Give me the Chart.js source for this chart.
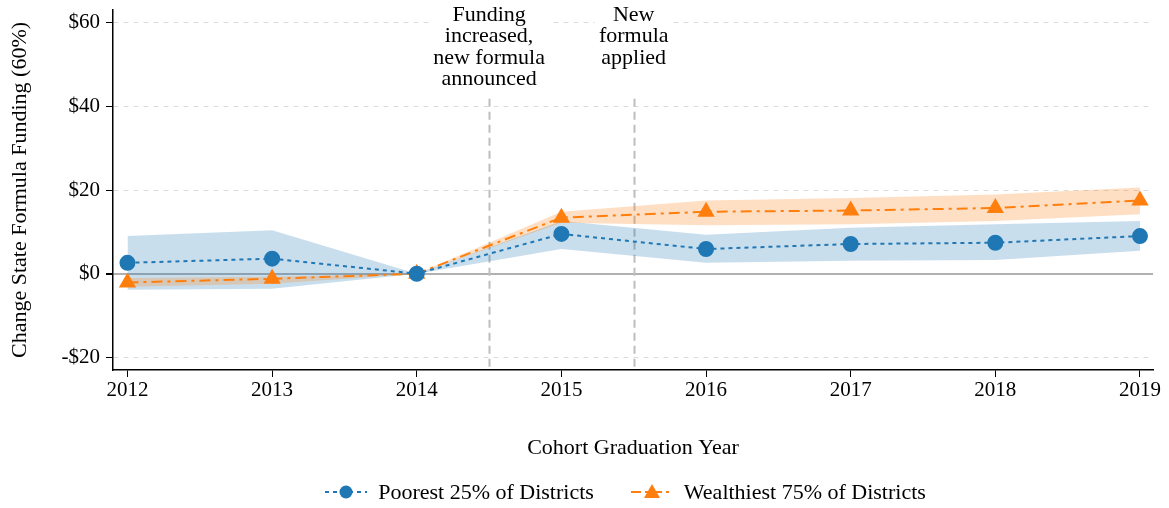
<!DOCTYPE html>
<html>
<head>
<meta charset="utf-8">
<script src="https://cdn.jsdelivr.net/npm/chart.js@4.4.0/dist/chart.umd.min.js"></script>
<style>
  body { margin: 0; background: #fff; }
  #wrap { position: relative; width: 1169px; height: 508px; }
  #legend { position: absolute; left: 0; top: 479px; width: 1250px; display: flex; justify-content: center;
            font-family: "Liberation Serif", serif; font-size: 22px; color: #000; }
  .item { display: flex; align-items: center; margin: 0 18px; }
  .item svg { margin-right: 10px; }
</style>
</head>
<body>
<div id="wrap">
  <canvas id="myChart" width="1169" height="508"></canvas>
  <div id="legend">
    <div class="item">
      <svg width="44" height="20"><line x1="1" y1="10" x2="43" y2="10" stroke="#1f77b4" stroke-width="2" stroke-dasharray="4,4"/><circle cx="22" cy="10" r="6.5" fill="#1f77b4"/></svg>
      <span>Poorest 25% of Districts</span>
    </div>
    <div class="item">
      <svg width="44" height="20"><line x1="1" y1="10" x2="43" y2="10" stroke="#ff7f0e" stroke-width="2" stroke-dasharray="10,4,3,4"/><polygon points="22,2 30,16 14,16" fill="#ff7f0e"/></svg>
      <span>Wealthiest 75% of Districts</span>
    </div>
  </div>
</div>
<script>
// chart data
var years = [2012, 2013, 2014, 2015, 2016, 2017, 2018, 2019];
var poorest = [2.6, 3.6, 0, 9.5, 5.9, 7.1, 7.4, 9.0];
var poorestHi = [9.0, 10.4, 0, 12.6, 9.3, 11.0, 11.8, 12.6];
var poorestLo = [-3.8, -3.6, 0, 5.9, 2.6, 3.1, 3.3, 5.5];
var wealthiest = [-2.1, -1.2, 0, 13.4, 14.8, 15.1, 15.7, 17.5];
var wealthiestHi = [-1.0, -0.7, 0, 14.8, 17.5, 18.1, 18.9, 20.6];
var wealthiestLo = [-3.1, -2.4, 0, 12.2, 11.6, 11.8, 12.6, 14.2];
var yTicks = [-20, 0, 20, 40, 60];
var events = [
    { x: 2014.5, text: ['Funding', 'increased,', 'new formula', 'announced'] },
    { x: 2015.5, text: ['New', 'formula', 'applied'] }
];

var blue = '#1f77b4';
var orange = '#ff7f0e';
var FONT = '"Liberation Serif", serif';

function pts(arr) {
    return years.map(function (y, i) { return { x: y, y: arr[i] }; });
}

// vertical event lines + labels
var eventPlugin = {
    id: 'events',
    beforeDatasetsDraw: function (chart) {
        var c = chart.ctx, xs = chart.scales.x, ys = chart.scales.y;
        c.save();
        c.strokeStyle = '#bdbdbd';
        c.lineWidth = 2;
        c.setLineDash([8, 5]);
        events.forEach(function (ev) {
            var px = Math.round(xs.getPixelForValue(ev.x)) + 0.5;
            c.beginPath();
            c.moveTo(px, ys.getPixelForValue(41.8));
            c.lineTo(px, chart.chartArea.bottom);
            c.stroke();
        });
        c.restore();
    },
    afterDraw: function (chart) {
        var c = chart.ctx, xs = chart.scales.x;
        c.save();
        c.font = '22px ' + FONT;
        c.textAlign = 'center';
        c.textBaseline = 'middle';
        events.forEach(function (ev) {
            var px = xs.getPixelForValue(ev.x);
            var w = 0;
            ev.text.forEach(function (t) { w = Math.max(w, c.measureText(t).width); });
            c.fillStyle = '#fff';
            c.fillRect(px - w / 2 - 4, 8, w + 8, ev.text.length * 21.5 - 2);
            c.fillStyle = '#000';
            ev.text.forEach(function (t, i) {
                c.fillText(t, px, 15 + i * 21.5);
            });
        });
        c.restore();
    }
};

var ctx = document.getElementById('myChart').getContext('2d');
var myChart = new Chart(ctx, {
    type: 'line',
    data: {
        datasets: [{
            label: 'Poorest 25% of Districts',
            data: pts(poorest),
            borderColor: blue,
            backgroundColor: blue,
            borderWidth: 2,
            borderDash: [4, 4],
            pointRadius: 7,
            pointStyle: 'circle',
            fill: false
        }, {
            label: 'Wealthiest 75% of Districts',
            data: pts(wealthiest),
            borderColor: orange,
            backgroundColor: orange,
            borderWidth: 2,
            borderDash: [11, 5, 3, 5],
            pointRadius: 8,
            pointStyle: 'triangle',
            fill: false
        }, {
            label: 'w hi',
            data: pts(wealthiestHi),
            borderWidth: 0,
            pointRadius: 0,
            backgroundColor: 'rgba(255,127,14,0.25)',
            fill: '+1'
        }, {
            label: 'w lo',
            data: pts(wealthiestLo),
            borderWidth: 0,
            pointRadius: 0,
            fill: false
        }, {
            label: 'p hi',
            data: pts(poorestHi),
            borderWidth: 0,
            pointRadius: 0,
            backgroundColor: 'rgba(31,119,180,0.24)',
            fill: '+1'
        }, {
            label: 'p lo',
            data: pts(poorestLo),
            borderWidth: 0,
            pointRadius: 0,
            fill: false
        }]
    },
    options: {
        responsive: false,
        animation: false,
        devicePixelRatio: 1,
        layout: { padding: { left: 0, right: 16, top: 7, bottom: 0 } },
        plugins: {
            legend: { display: false },
            tooltip: { enabled: false }
        },
        scales: {
            x: {
                type: 'linear',
                min: 2011.9,
                max: 2019.09,
                afterBuildTicks: function (axis) {
                    axis.ticks = years.map(function (v) { return { value: v }; });
                },
                afterFit: function (scale) {
                    scale.height = 138;
                    scale.paddingLeft = 0;
                    scale.paddingRight = 0;
                },
                ticks: {
                    font: { family: FONT, size: 21 },
                    color: '#000',
                    padding: 1,
                    maxRotation: 0,
                    callback: function (v) { return String(v); }
                },
                grid: { drawOnChartArea: false, tickLength: 7, tickColor: '#000' },
                border: { color: '#000', width: 1.5 },
                title: {
                    display: true,
                    text: 'Cohort Graduation Year',
                    font: { family: FONT, size: 22 },
                    color: '#000',
                    padding: { top: 0, bottom: 47 }
                }
            },
            y: {
                min: -23,
                max: 63,
                afterBuildTicks: function (axis) {
                    axis.ticks = yTicks.map(function (v) { return { value: v }; });
                },
                afterFit: function (scale) {
                    scale.width = 113;
                    scale.paddingTop = 0;
                    scale.paddingBottom = 0;
                },
                ticks: {
                    font: { family: FONT, size: 21 },
                    color: '#000',
                    padding: 6,
                    callback: function (v) { return (v < 0 ? '-$' : '$') + Math.abs(v); }
                },
                grid: {
                    color: function (c) { return c.tick && c.tick.value === 0 ? '#b0b0b0' : '#dcdcdc'; },
                    lineWidth: function (c) { return c.tick && c.tick.value === 0 ? 2 : 1; },
                    tickLength: 7,
                    tickColor: '#000'
                },
                border: {
                    color: '#000',
                    width: 1.5,
                    dash: function (c) { return c.tick && c.tick.value === 0 ? [] : [5, 5]; }
                },
                title: {
                    display: true,
                    text: 'Change State Formula Funding (60%)',
                    font: { family: FONT, size: 22 },
                    color: '#000',
                    padding: { top: 7, bottom: 0 }
                }
            }
        }
    },
    plugins: [eventPlugin]
});
</script>
</body>
</html>
